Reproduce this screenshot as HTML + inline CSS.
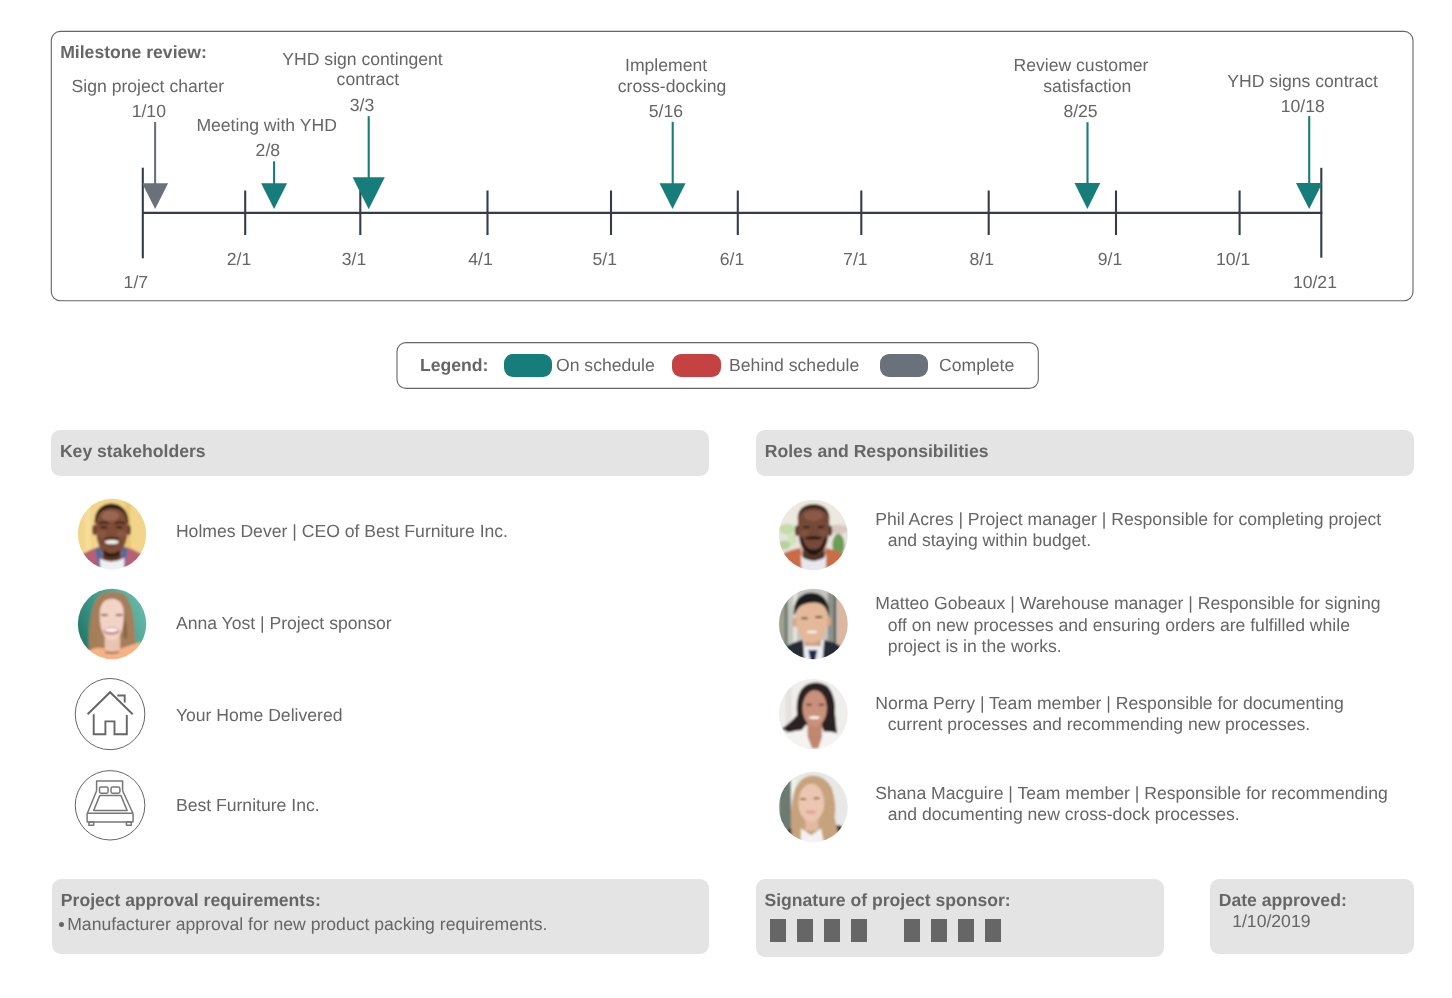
<!DOCTYPE html>
<html><head><meta charset="utf-8"><style>
html,body{margin:0;padding:0;background:#fff;}
body{width:1452px;height:998px;position:relative;overflow:hidden;will-change:transform;font-family:"Liberation Sans",sans-serif;}
.t,.b{position:absolute;white-space:pre;text-rendering:geometricPrecision;font-size:17.6px;line-height:20px;color:#666;}
.b{font-weight:bold;}
.box{position:absolute;box-sizing:border-box;}
.pill{position:absolute;border-radius:9px;}
.sig{position:absolute;background:#666;top:919px;height:22.5px;width:16.3px;}
svg{position:absolute;left:0;top:0;}
</style></head><body>
<div class="box" style="left:51.2px;top:430.3px;width:657.8px;height:45.3px;background:#e4e4e4;border-radius:9px;"></div>
<div class="box" style="left:755.6px;top:430.3px;width:658.6px;height:45.4px;background:#e4e4e4;border-radius:9px;"></div>
<div class="box" style="left:51.7px;top:879.4px;width:657px;height:74.2px;background:#e4e4e4;border-radius:9px;"></div>
<div class="box" style="left:756.1px;top:879.3px;width:408.3px;height:77.9px;background:#e4e4e4;border-radius:9px;"></div>
<div class="box" style="left:1210.2px;top:879.3px;width:204px;height:74.4px;background:#e4e4e4;border-radius:9px;"></div>
<div class="pill" style="left:503.5px;top:354px;width:48.5px;height:23px;background:#177d7b;"></div>
<div class="pill" style="left:672px;top:354.2px;width:48.8px;height:22.5px;background:#c44242;"></div>
<div class="pill" style="left:879.5px;top:354.2px;width:48.7px;height:22.5px;background:#6b717a;"></div>
<svg width="1452" height="998" viewBox="0 0 1452 998">
<rect x="51.3" y="31.4" width="1361.7" height="269.3" rx="9" fill="none" stroke="#666" stroke-width="1.1"/><rect x="397.0" y="342.6" width="641.3" height="45.8" rx="9" fill="none" stroke="#666" stroke-width="1.1"/><line x1="142" y1="212.9" x2="1322.3" y2="212.9" stroke="#333d4a" stroke-width="2.1"/><line x1="245.2" y1="190.5" x2="245.2" y2="235" stroke="#333d4a" stroke-width="2.1"/><line x1="360.3" y1="190.5" x2="360.3" y2="235" stroke="#333d4a" stroke-width="2.1"/><line x1="487.5" y1="190.5" x2="487.5" y2="235" stroke="#333d4a" stroke-width="2.1"/><line x1="611" y1="190.5" x2="611" y2="235" stroke="#333d4a" stroke-width="2.1"/><line x1="737.8" y1="190.5" x2="737.8" y2="235" stroke="#333d4a" stroke-width="2.1"/><line x1="861.3" y1="190.5" x2="861.3" y2="235" stroke="#333d4a" stroke-width="2.1"/><line x1="988.7" y1="190.5" x2="988.7" y2="235" stroke="#333d4a" stroke-width="2.1"/><line x1="1116" y1="190.5" x2="1116" y2="235" stroke="#333d4a" stroke-width="2.1"/><line x1="1239.6" y1="190.5" x2="1239.6" y2="235" stroke="#333d4a" stroke-width="2.1"/><line x1="142.8" y1="167.7" x2="142.8" y2="258.3" stroke="#333d4a" stroke-width="2.1"/><line x1="1321.3" y1="167.8" x2="1321.3" y2="257.7" stroke="#333d4a" stroke-width="2.1"/><line x1="155.1" y1="122" x2="155.1" y2="184.2" stroke="#6b717a" stroke-width="2.1"/><polygon points="142.2,183.2 168.1,183.2 155.14999999999998,209" fill="#6b717a"/><line x1="274.1" y1="161.3" x2="274.1" y2="184.3" stroke="#177d7b" stroke-width="2.1"/><polygon points="261.1,183.3 287.1,183.3 274.1,209.1" fill="#177d7b"/><line x1="368.7" y1="116.2" x2="368.7" y2="178.3" stroke="#177d7b" stroke-width="2.1"/><polygon points="352.6,177.3 384.8,177.3 368.70000000000005,209.2" fill="#177d7b"/><line x1="672.7" y1="121.8" x2="672.7" y2="184.3" stroke="#177d7b" stroke-width="2.1"/><polygon points="659.5,183.3 685.6,183.3 672.55,208.9" fill="#177d7b"/><line x1="1087.5" y1="122.2" x2="1087.5" y2="184.1" stroke="#177d7b" stroke-width="2.1"/><polygon points="1074.5,183.1 1100.3,183.1 1087.4,209.1" fill="#177d7b"/><line x1="1309.2" y1="116.1" x2="1309.2" y2="184" stroke="#177d7b" stroke-width="2.1"/><polygon points="1296,183 1322.3,183 1309.15,209" fill="#177d7b"/>
</svg>
<div class="sig" style="left:770px"></div><div class="sig" style="left:797px"></div><div class="sig" style="left:824.1px"></div><div class="sig" style="left:850.7px"></div><div class="sig" style="left:904px"></div><div class="sig" style="left:930.9px"></div><div class="sig" style="left:958px"></div><div class="sig" style="left:984.8px"></div>
<div style="position:absolute;left:58.6px;top:921.9px;width:5.1px;height:5.1px;border-radius:50%;background:#666;"></div>
<svg style="position:absolute;left:75px;top:497px" width="75" height="75" viewBox="0 0 998 998"><defs><clipPath id="ch"><ellipse cx="493" cy="493.5" rx="455" ry="471.5"/></clipPath><filter id="fh" x="-10%" y="-10%" width="120%" height="120%"><feGaussianBlur stdDeviation="14"/></filter></defs><g clip-path="url(#ch)"><g filter="url(#fh)">
<rect x="-50" y="-50" width="1100" height="1100" fill="#f2d58b"/>
<rect x="670" y="0" width="70" height="998" fill="#eac672"/>
<rect x="140" y="0" width="60" height="998" fill="#f6de9c"/>
<path d="M40,800 Q150,720 330,660 L650,660 Q800,700 930,790 L998,998 L0,998 Z" fill="#b65f74"/>
<path d="M270,690 L350,660 L370,900 L320,960 Z" fill="#4d6c9e"/>
<path d="M700,690 L630,660 L610,880 L660,930 Z" fill="#4d6c9e"/>
<path d="M330,820 Q490,900 660,810 L650,998 L340,998 Z" fill="#eef0f4"/>
<path d="M380,650 L600,650 L610,830 Q490,880 370,830 Z" fill="#5a3424"/>
<ellipse cx="258" cy="440" rx="28" ry="70" fill="#6e4030"/>
<ellipse cx="716" cy="440" rx="28" ry="70" fill="#6e4030"/>
<path d="M275,330 C270,180 380,135 490,135 C600,135 710,180 705,330 C705,520 680,650 600,740 C560,780 520,795 485,795 C450,795 410,780 370,740 C300,650 275,520 275,330 Z" fill="#7f4d38"/>
<path d="M262,360 C250,180 360,85 485,85 C610,85 720,180 712,360 L690,330 C680,200 600,150 490,150 C380,150 300,200 285,330 Z" fill="#2b1e18"/>
<ellipse cx="470" cy="250" rx="120" ry="70" fill="#9a6650"/>
<ellipse cx="360" cy="490" rx="60" ry="45" fill="#8c5842"/>
<ellipse cx="615" cy="490" rx="60" ry="45" fill="#8c5842"/>
<ellipse cx="385" cy="402" rx="48" ry="14" fill="#2a1a12"/>
<ellipse cx="590" cy="402" rx="48" ry="14" fill="#2a1a12"/>
<path d="M315,350 Q385,325 450,350" stroke="#2a1a12" stroke-width="22" fill="none"/>
<path d="M530,350 Q590,325 665,350" stroke="#2a1a12" stroke-width="22" fill="none"/>
<ellipse cx="490" cy="552" rx="100" ry="16" fill="#2a1a12"/>
<ellipse cx="490" cy="602" rx="112" ry="44" fill="#3a2018"/>
<ellipse cx="490" cy="600" rx="98" ry="30" fill="#f1ece4"/>
<path d="M380,710 Q485,790 600,710 L590,765 Q485,835 385,765 Z" fill="#2a1a12"/>
</g></g></svg><svg style="position:absolute;left:75px;top:586px" width="75" height="75" viewBox="0 0 998 998"><defs><clipPath id="ca"><ellipse cx="493" cy="505" rx="455" ry="470"/></clipPath><filter id="fa" x="-10%" y="-10%" width="120%" height="120%"><feGaussianBlur stdDeviation="14"/></filter></defs><g clip-path="url(#ca)"><g filter="url(#fa)">
<defs><linearGradient id="ga" x1="0" y1="0.75" x2="1" y2="0.25"><stop offset="0" stop-color="#1a6e5e"/><stop offset="0.45" stop-color="#3f9a88"/><stop offset="1" stop-color="#72c0b2"/></linearGradient></defs>
<rect x="-50" y="-50" width="1100" height="1100" fill="url(#ga)"/>
<path d="M190,870 C170,600 200,300 300,150 C380,60 600,50 680,140 C800,300 790,600 810,850 Z" fill="#a67e5a"/>
<path d="M560,180 C640,250 690,400 700,700 L650,700 C640,450 610,300 560,180 Z" fill="#8a6646"/>
<rect x="395" y="620" width="205" height="270" fill="#e9c5b1"/>
<path d="M140,998 L180,860 Q300,800 380,830 Q490,910 620,830 Q750,780 870,750 L998,998 Z" fill="#f5b386"/>
<path d="M330,400 C320,230 400,170 490,170 C580,170 660,230 650,400 C650,580 600,710 490,720 C380,710 330,580 330,400 Z" fill="#f2d4c6"/>
<ellipse cx="392" cy="385" rx="48" ry="14" fill="#7a5a48"/>
<ellipse cx="588" cy="385" rx="48" ry="14" fill="#7a5a48"/>
<ellipse cx="485" cy="598" rx="108" ry="52" fill="#cf8686"/>
<ellipse cx="485" cy="585" rx="90" ry="26" fill="#fcf7f5"/>
<path d="M400,880 Q490,900 580,880" stroke="#6a4a3a" stroke-width="14" fill="none"/>
</g></g></svg><svg style="position:absolute;left:776px;top:497px" width="75" height="75" viewBox="0 0 998 998"><defs><clipPath id="cp"><ellipse cx="496.5" cy="505" rx="458.5" ry="470"/></clipPath><filter id="fp" x="-10%" y="-10%" width="120%" height="120%"><feGaussianBlur stdDeviation="14"/></filter></defs><g clip-path="url(#cp)"><g filter="url(#fp)">
<rect x="-50" y="-50" width="1100" height="1100" fill="#eee9df"/>
<rect x="-50" y="360" width="1100" height="420" fill="#e6e4de"/>
<ellipse cx="150" cy="430" rx="110" ry="70" fill="#c4dcab"/>
<ellipse cx="210" cy="560" rx="60" ry="90" fill="#cfe2b9"/>
<ellipse cx="110" cy="640" rx="80" ry="60" fill="#b5d39a"/>
<ellipse cx="830" cy="430" rx="140" ry="60" fill="#d9c8c2"/>
<ellipse cx="830" cy="640" rx="80" ry="150" fill="#6c9c56"/>
<path d="M80,760 Q220,690 330,680 L380,998 L0,998 Z" fill="#c96d46"/>
<path d="M920,770 Q770,700 660,680 L620,998 L998,998 Z" fill="#c96d46"/>
<path d="M330,770 L670,770 L660,998 L340,998 Z" fill="#e6e8ee"/>
<path d="M360,620 L640,620 L650,800 Q500,900 350,800 Z" fill="#4e3024"/>
<ellipse cx="280" cy="450" rx="28" ry="70" fill="#5e3a2a"/>
<ellipse cx="720" cy="450" rx="28" ry="70" fill="#5e3a2a"/>
<path d="M290,300 C285,150 390,95 500,95 C610,95 715,150 710,300 C710,520 690,660 610,740 C570,775 535,790 500,790 C465,790 430,775 390,740 C310,660 290,520 290,300 Z" fill="#754a38"/>
<path d="M290,300 C285,150 390,95 500,95 C610,95 715,150 710,300 C690,200 610,150 500,150 C390,150 310,200 290,300 Z" fill="#33241c"/>
<ellipse cx="500" cy="250" rx="130" ry="70" fill="#8a5a46"/>
<ellipse cx="380" cy="480" rx="55" ry="40" fill="#80523f"/>
<ellipse cx="620" cy="480" rx="55" ry="40" fill="#80523f"/>
<path d="M320,520 C330,680 420,780 500,780 C580,780 670,680 680,520 L640,560 C620,660 570,700 500,700 C430,700 380,660 360,560 Z" fill="#241812"/>
<ellipse cx="498" cy="545" rx="110" ry="22" fill="#241812"/>
<ellipse cx="498" cy="600" rx="95" ry="32" fill="#7a4a38"/>
<ellipse cx="405" cy="400" rx="48" ry="15" fill="#2a1a12"/>
<ellipse cx="598" cy="400" rx="48" ry="15" fill="#2a1a12"/>
</g></g></svg><svg style="position:absolute;left:776px;top:586px" width="75" height="75" viewBox="0 0 998 998"><defs><clipPath id="cm"><ellipse cx="496.5" cy="505" rx="458.5" ry="470"/></clipPath><filter id="fm" x="-10%" y="-10%" width="120%" height="120%"><feGaussianBlur stdDeviation="14"/></filter></defs><g clip-path="url(#cm)"><g filter="url(#fm)">
<rect x="-50" y="-50" width="1100" height="1100" fill="#c2c5be"/>
<rect x="40" y="0" width="50" height="998" fill="#a09c8c"/>
<rect x="100" y="0" width="60" height="998" fill="#7a8278"/>
<rect x="230" y="0" width="50" height="998" fill="#e2e4e0"/>
<rect x="690" y="0" width="80" height="998" fill="#8c928a"/>
<rect x="770" y="0" width="30" height="998" fill="#4e5650"/>
<rect x="810" y="0" width="200" height="998" fill="#d9b7a3"/>
<path d="M120,810 Q280,730 360,720 L640,720 Q760,740 860,800 L998,998 L0,998 Z" fill="#262b36"/>
<path d="M360,720 L640,720 L620,998 L380,998 Z" fill="#eceef4"/>
<path d="M430,850 L550,850 L520,998 L460,998 Z" fill="#1f2a4a"/>
<rect x="380" y="600" width="220" height="200" fill="#cfa182"/>
<ellipse cx="255" cy="480" rx="35" ry="65" fill="#d6a586"/>
<ellipse cx="700" cy="470" rx="35" ry="65" fill="#d6a586"/>
<path d="M265,420 C262,280 340,210 475,210 C610,210 690,280 688,420 C688,600 630,740 475,760 C320,740 265,600 265,420 Z" fill="#e4b898"/>
<path d="M240,400 C220,200 330,90 470,90 C620,90 720,200 705,400 L680,340 C650,240 560,215 470,222 C380,228 300,260 270,340 Z" fill="#1c1a1a"/>
<ellipse cx="380" cy="430" rx="48" ry="12" fill="#3a2820"/>
<ellipse cx="570" cy="415" rx="48" ry="12" fill="#3a2820"/>
<ellipse cx="480" cy="612" rx="75" ry="20" fill="#f6f0ea"/>
</g></g></svg><svg style="position:absolute;left:776px;top:676px" width="75" height="75" viewBox="0 0 998 998"><defs><clipPath id="cn"><ellipse cx="496.5" cy="505" rx="458.5" ry="470"/></clipPath><filter id="fn" x="-10%" y="-10%" width="120%" height="120%"><feGaussianBlur stdDeviation="14"/></filter></defs><g clip-path="url(#cn)"><g filter="url(#fn)">
<rect x="-50" y="-50" width="1100" height="1100" fill="#f0eeea"/>
<rect x="130" y="100" width="80" height="700" fill="#e4e2de"/>
<path d="M80,700 Q200,620 280,520 Q250,200 420,110 Q560,50 690,140 Q800,270 785,500 Q800,700 830,880 L700,880 L600,650 L400,650 L300,770 Q180,780 80,700 Z" fill="#2c2422"/>
<rect x="420" y="580" width="190" height="400" fill="#bf8670"/>
<path d="M120,770 Q300,700 390,730 L480,960 L560,960 L640,740 Q760,730 880,790 L998,998 L0,998 Z" fill="#f5f3f1"/>
<ellipse cx="515" cy="430" rx="162" ry="242" fill="#c9917a"/>
<ellipse cx="440" cy="380" rx="42" ry="12" fill="#3a2420"/>
<ellipse cx="605" cy="380" rx="42" ry="12" fill="#3a2420"/>
<ellipse cx="510" cy="552" rx="72" ry="20" fill="#f8f4f0"/>
</g></g></svg><svg style="position:absolute;left:776px;top:769px" width="75" height="75" viewBox="0 0 998 998"><defs><clipPath id="cs"><ellipse cx="496.5" cy="506.5" rx="458.5" ry="468.5"/></clipPath><filter id="fs" x="-10%" y="-10%" width="120%" height="120%"><feGaussianBlur stdDeviation="14"/></filter></defs><g clip-path="url(#cs)"><g filter="url(#fs)">
<rect x="-50" y="-50" width="1100" height="1100" fill="#e8e8e6"/>
<rect x="40" y="130" width="160" height="680" fill="#6c7a72"/>
<rect x="200" y="130" width="60" height="680" fill="#f2f2f0"/>
<path d="M100,850 Q200,760 330,760 L330,998 L100,998 Z" fill="#3a3432"/>
<path d="M880,760 Q760,730 680,760 L700,998 L950,998 Z" fill="#3a3432"/>
<path d="M210,900 Q170,500 260,250 Q350,80 500,85 Q650,90 740,250 Q810,450 780,650 Q820,800 840,920 L790,998 L260,998 Z" fill="#c6a37c"/>
<rect x="390" y="600" width="170" height="220" fill="#e2b9a2"/>
<path d="M330,790 L470,880 L600,790 L640,998 L330,998 Z" fill="#f2f2f2"/>
<ellipse cx="470" cy="450" rx="172" ry="255" fill="#ecc6b0"/>
<ellipse cx="360" cy="400" rx="44" ry="12" fill="#6a5040"/>
<ellipse cx="540" cy="390" rx="44" ry="12" fill="#6a5040"/>
<ellipse cx="460" cy="572" rx="75" ry="28" fill="#e3a79e"/>
</g></g></svg><svg style="position:absolute;left:65px;top:670px" width="95" height="90" viewBox="65 670 95 90"><ellipse cx="110.05" cy="714.1" rx="34.8" ry="35.6" fill="none" stroke="#666" stroke-width="1"/><g fill="none" stroke="#666" stroke-width="1.9" stroke-linejoin="miter"><polyline points="87.6,714.2 110.1,692.2 132.7,714.2"/><polyline points="117.3,695.5 124.7,695.5 124.7,702.6"/><polyline points="93.7,714.3 93.7,734.3 105.4,734.3 105.4,721.4 114.5,721.4 114.5,734.3 126.8,734.3 126.8,715.1"/></g></svg><svg style="position:absolute;left:65px;top:760px" width="95" height="90" viewBox="65 760 95 90"><ellipse cx="110.05" cy="805.3" rx="34.8" ry="34.7" fill="none" stroke="#666" stroke-width="1"/><g fill="none" stroke="#777" stroke-width="1.5" stroke-linejoin="round"><polyline points="96.6,790.7 96.6,781 122.6,781 122.6,790.7"/><rect x="99.5" y="787.1" width="8.6" height="6.1" rx="1.6"/><rect x="111" y="787.1" width="8.9" height="6.1" rx="1.6"/><polygon points="99.7,795.6 121,795.6 127.1,810.5 93.7,810.5"/><polyline points="96.6,790.7 87.4,813.2"/><polyline points="122.6,790.7 132.9,813.2"/><rect x="87.1" y="813.2" width="46" height="8.9" rx="0.8"/><rect x="88.9" y="822.1" width="4.8" height="3.1"/><rect x="126.4" y="822.1" width="4.9" height="3.1"/></g></svg>
<div class="t" style="left:71.60px;top:76.20px;">Sign project charter</div><div class="t" style="left:131.70px;top:100.50px;">1/10</div><div class="t" style="left:196.40px;top:114.80px;">Meeting with YHD</div><div class="t" style="left:255.60px;top:139.60px;">2/8</div><div class="t" style="left:282.30px;top:49.20px;">YHD sign contingent</div><div class="t" style="left:336.60px;top:69.40px;">contract</div><div class="t" style="left:349.80px;top:94.70px;">3/3</div><div class="t" style="left:625.00px;top:54.90px;">Implement</div><div class="t" style="left:617.80px;top:75.70px;">cross-docking</div><div class="t" style="left:648.80px;top:100.50px;">5/16</div><div class="t" style="left:1013.50px;top:55.10px;">Review customer</div><div class="t" style="left:1043.30px;top:75.80px;">satisfaction</div><div class="t" style="left:1063.40px;top:100.60px;">8/25</div><div class="t" style="left:1227.30px;top:71.10px;">YHD signs contract</div><div class="t" style="left:1280.70px;top:95.60px;">10/18</div><div class="t" style="left:226.80px;top:248.90px;">2/1</div><div class="t" style="left:341.80px;top:248.90px;">3/1</div><div class="t" style="left:468.30px;top:248.90px;">4/1</div><div class="t" style="left:592.50px;top:248.90px;">5/1</div><div class="t" style="left:719.80px;top:248.90px;">6/1</div><div class="t" style="left:843.10px;top:248.90px;">7/1</div><div class="t" style="left:969.50px;top:248.90px;">8/1</div><div class="t" style="left:1097.80px;top:248.90px;">9/1</div><div class="t" style="left:1216.00px;top:248.90px;">10/1</div><div class="t" style="left:123.60px;top:271.90px;">1/7</div><div class="t" style="left:1292.90px;top:271.60px;">10/21</div><div class="t" style="left:556.00px;top:354.90px;">On schedule</div><div class="t" style="left:729.10px;top:354.90px;">Behind schedule</div><div class="t" style="left:939.00px;top:354.90px;">Complete</div><div class="t" style="left:175.90px;top:521.10px;">Holmes Dever | CEO of Best Furniture Inc.</div><div class="t" style="left:175.90px;top:613.10px;">Anna Yost | Project sponsor</div><div class="t" style="left:175.90px;top:704.80px;">Your Home Delivered</div><div class="t" style="left:175.90px;top:795.20px;">Best Furniture Inc.</div><div class="t" style="left:875.30px;top:508.70px;">Phil Acres | Project manager | Responsible for completing project</div><div class="t" style="left:887.70px;top:529.80px;">and staying within budget.</div><div class="t" style="left:875.30px;top:593.40px;">Matteo Gobeaux | Warehouse manager | Responsible for signing</div><div class="t" style="left:887.70px;top:614.50px;">off on new processes and ensuring orders are fulfilled while</div><div class="t" style="left:887.70px;top:635.80px;">project is in the works.</div><div class="t" style="left:875.30px;top:692.80px;">Norma Perry | Team member | Responsible for documenting</div><div class="t" style="left:887.70px;top:713.90px;">current processes and recommending new processes.</div><div class="t" style="left:875.30px;top:782.70px;">Shana Macguire | Team member | Responsible for recommending</div><div class="t" style="left:887.70px;top:803.80px;">and documenting new cross-dock processes.</div><div class="t" style="left:67.20px;top:913.80px;">Manufacturer approval for new product packing requirements.</div><div class="t" style="left:1232.20px;top:910.70px;">1/10/2019</div><div class="b" style="left:60.20px;top:41.80px;">Milestone review:</div><div class="b" style="left:419.90px;top:354.90px;">Legend:</div><div class="b" style="left:59.90px;top:441.10px;">Key stakeholders</div><div class="b" style="left:764.70px;top:441.10px;">Roles and Responsibilities</div><div class="b" style="left:60.80px;top:890.00px;">Project approval requirements:</div><div class="b" style="left:764.40px;top:890.10px;">Signature of project sponsor:</div><div class="b" style="left:1218.70px;top:890.10px;">Date approved:</div>
</body></html>
